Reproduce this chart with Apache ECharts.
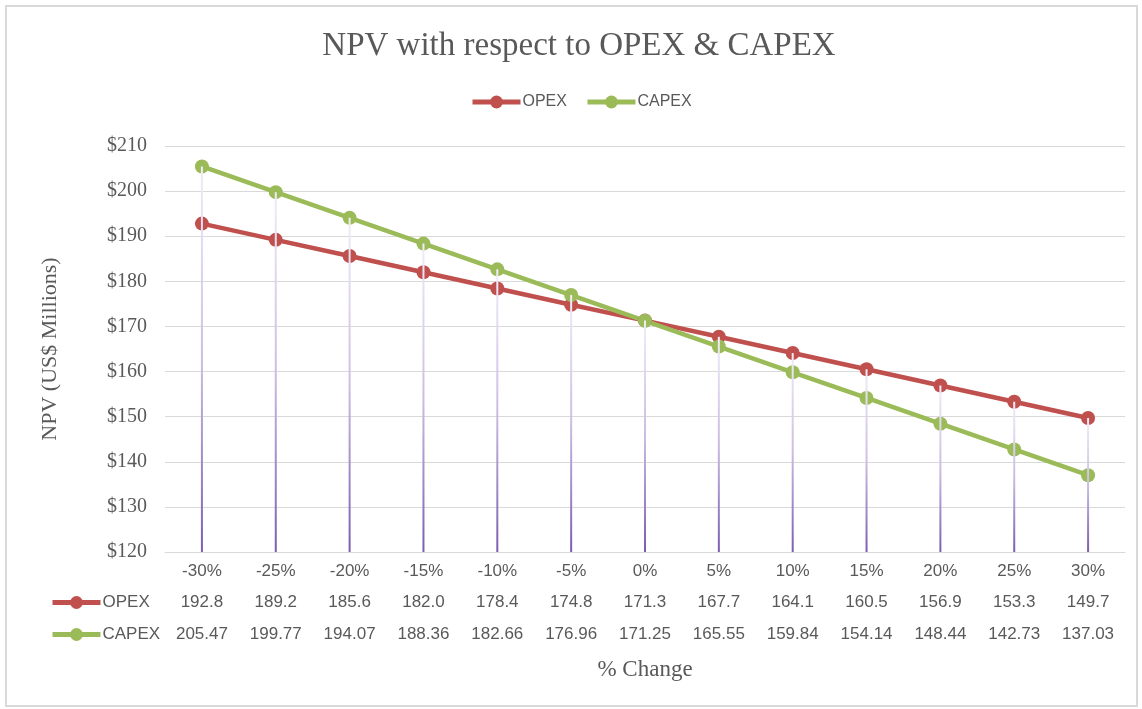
<!DOCTYPE html>
<html>
<head>
<meta charset="utf-8">
<title>NPV with respect to OPEX & CAPEX</title>
<script src="https://cdn.jsdelivr.net/npm/echarts@6/dist/echarts.min.js"></script>
<style>
  html, body { margin: 0; padding: 0; background: #fff; }
  #chart { width: 1142px; height: 709px; }
</style>
</head>
<body>
<div id="chart"></div>
<script>
// data
const categories = ['-30%', '-25%', '-20%', '-15%', '-10%', '-5%', '0%', '5%', '10%', '15%', '20%', '25%', '30%']
const opex = [192.8, 189.2, 185.6, 182.0, 178.4, 174.8, 171.3, 167.7, 164.1, 160.5, 156.9, 153.3, 149.7]
const capex = [205.47, 199.77, 194.07, 188.36, 182.66, 176.96, 171.25, 165.55, 159.84, 154.14, 148.44, 142.73, 137.03]
const yTicks = [120, 130, 140, 150, 160, 170, 180, 190, 200, 210]

const SERIF = '"Liberation Serif", "DejaVu Serif", serif'
const SANS = '"Liberation Sans", "Noto Sans", sans-serif'
const GREY = '#595959'
const RED = '#c0504d'
const GREEN = '#9bbb59'

const yMin = yTicks[0]
const yMax = yTicks[yTicks.length - 1]

// drop lines go from the higher of the two points down to the axis
const dropData = categories.map((c, i) => [i, Math.max(opex[i], capex[i])])

// extra category axes used as the data table rows
function tableAxis(values, digits, offset) {
  return {
    type: 'category',
    gridIndex: 0,
    position: 'bottom',
    offset: offset,
    data: values.map(v => v.toFixed(digits)),
    axisLine: { show: false },
    axisTick: { show: false },
    splitLine: { show: false },
    axisLabel: { color: GREY, fontFamily: SANS, fontSize: 17, margin: 11, interval: 0 }
  }
}

const chart = echarts.init(document.getElementById('chart'))

const option = {
  animation: false,
  backgroundColor: '#fff',
  title: {
    text: 'NPV with respect to OPEX & CAPEX',
    left: 574,
    top: 25,
    textAlign: 'center',
    textStyle: { fontFamily: SERIF, fontSize: 33, fontWeight: 'normal', color: GREY }
  },
  legend: [
    {
      data: ['OPEX', 'CAPEX'],
      top: 89,
      left: 465,
      itemWidth: 48,
      itemHeight: 16,
      itemGap: 18,
      lineStyle: { width: 5 },
      textStyle: { fontFamily: SANS, fontSize: 16, color: GREY, padding: [0, 0, 0, -3] }
    },
    {
      data: ['OPEX', 'CAPEX'],
      orient: 'vertical',
      left: 45,
      top: 589,
      itemWidth: 48,
      itemHeight: 16,
      itemGap: 15,
      selectedMode: false,
      lineStyle: { width: 5 },
      textStyle: { fontFamily: SANS, fontSize: 17, color: GREY, padding: [0, 0, 0, -3] }
    }
  ],
  grid: { left: 165, right: 17, top: 146, bottom: 157 },
  xAxis: [
    {
      type: 'category',
      data: categories,
      boundaryGap: true,
      axisLine: { lineStyle: { color: '#d9d9d9', width: 1 } },
      axisTick: { show: false },
      axisLabel: { color: GREY, fontFamily: SANS, fontSize: 17, margin: 11, interval: 0 }
    },
    tableAxis(opex, 1, 31),
    Object.assign(tableAxis(capex, 2, 63), {
      name: '% Change',
      nameLocation: 'middle',
      nameGap: 43,
      nameTextStyle: { fontFamily: SERIF, fontSize: 23, color: GREY }
    })
  ],
  yAxis: {
    type: 'value',
    min: yMin,
    max: yMax,
    interval: 10,
    name: 'NPV (US$ Millions)',
    nameLocation: 'middle',
    nameGap: 104,
    nameTextStyle: { fontFamily: SERIF, fontSize: 22, color: GREY },
    axisLine: { show: false },
    axisTick: { show: false },
    axisLabel: {
      color: GREY,
      fontFamily: SERIF,
      fontSize: 20,
      margin: 18,
      formatter: v => '$' + v
    },
    splitLine: { lineStyle: { color: '#d9d9d9', width: 1 } }
  },
  series: [
    {
      name: 'OPEX',
      type: 'line',
      data: opex,
      z: 2,
      symbol: 'circle',
      symbolSize: 14,
      lineStyle: { color: RED, width: 4.5 },
      itemStyle: { color: RED }
    },
    {
      name: 'CAPEX',
      type: 'line',
      data: capex,
      z: 2,
      symbol: 'circle',
      symbolSize: 14,
      lineStyle: { color: GREEN, width: 4.5 },
      itemStyle: { color: GREEN }
    },
    {
      name: 'drop',
      type: 'custom',
      z: 3,
      silent: true,
      data: dropData,
      renderItem: function(params, api) {
        const top = api.coord([api.value(0), api.value(1)])
        const bottom = api.coord([api.value(0), yMin])
        return {
          type: 'rect',
          shape: { x: top[0] - 1, y: top[1], width: 2, height: bottom[1] - top[1] },
          style: {
            fill: new echarts.graphic.LinearGradient(0, 0, 0, 1, [
              { offset: 0, color: '#f1ecf8' },
              { offset: 0.5, color: '#cbbde3' },
              { offset: 1, color: '#7b5cb0' }
            ])
          }
        }
      }
    }
  ],
  graphic: [
    {
      type: 'rect',
      shape: { x: 6, y: 6, width: 1131, height: 700 },
      style: { fill: 'none', stroke: '#d9d9d9', lineWidth: 2 },
      silent: true,
      z: -1
    }
  ]
}

chart.setOption(option)
</script>
</body>
</html>
